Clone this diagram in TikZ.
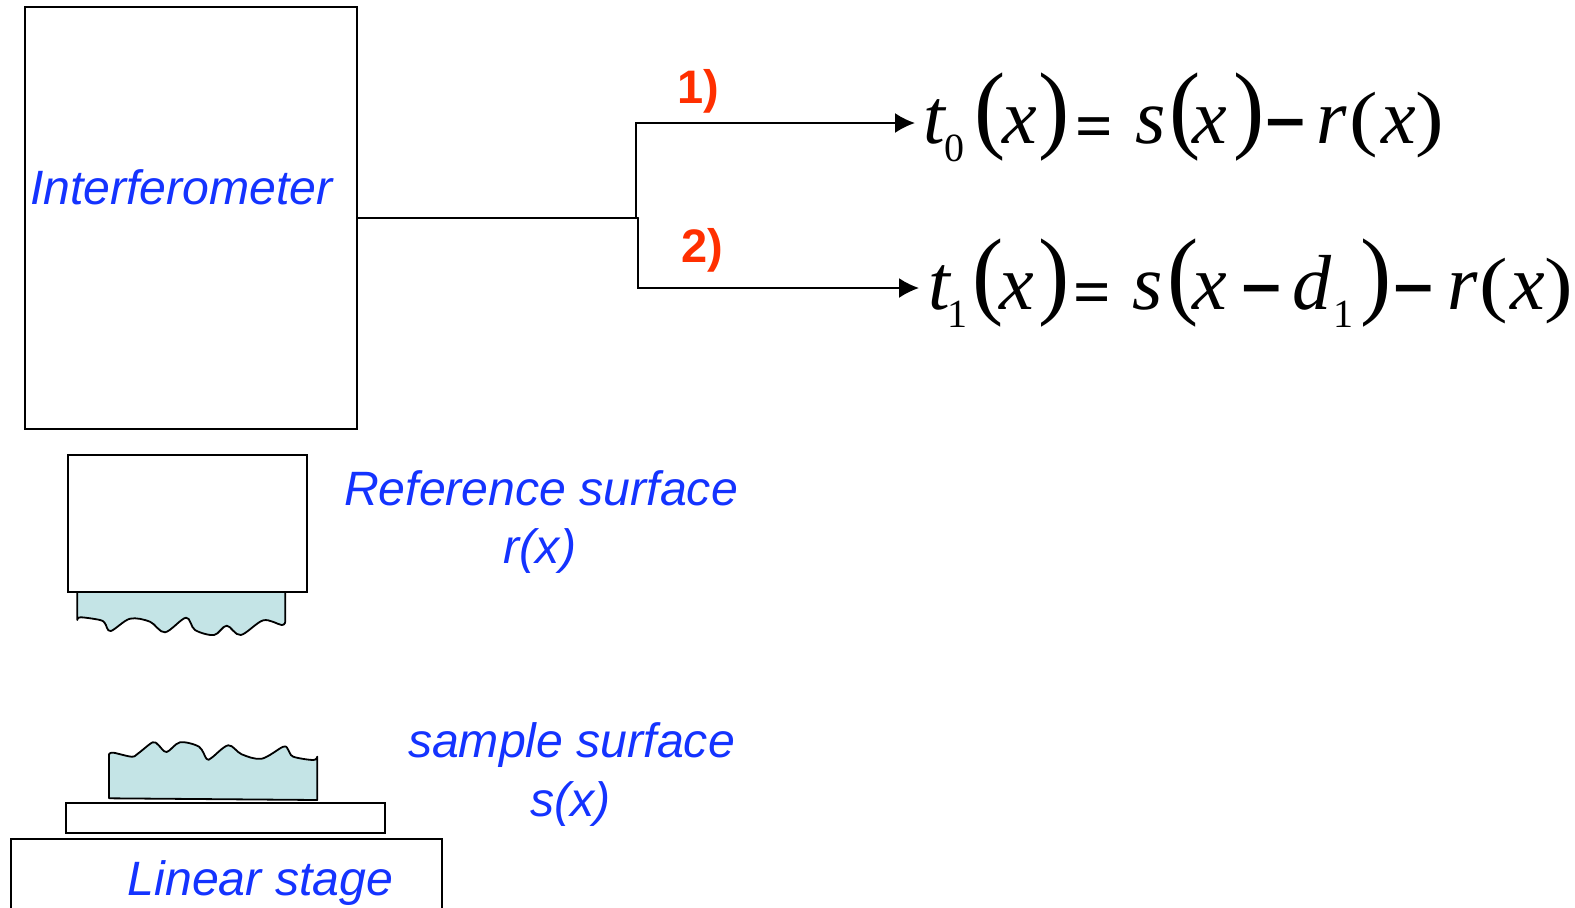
\documentclass[tikz,border=0pt]{standalone}
\usepackage{fontspec}
\setmainfont{Liberation Sans}
\newfontfamily\eqfont{Liberation Serif}
\usetikzlibrary{arrows.meta}
\definecolor{labelblue}{HTML}{1433FF}
\definecolor{labelred}{HTML}{FF2F00}
\definecolor{surf}{HTML}{C4E4E6}
\newcommand\placeat[2]{\rlap{\kern#1pt #2}}
\newcommand\bigparen[1]{\raisebox{3pt}{\scalebox{1.2}[1.25]{\fontsize{78}{78}\selectfont #1}}}
\newcommand\eqsub[1]{\raisebox{-18.5pt}{\fontsize{40}{40}\selectfont #1}}
\newcommand\eqit[1]{{\fontsize{78}{78}\selectfont\itshape #1}}
\newcommand\eqsm[1]{\raisebox{1pt}{\scalebox{1.1}[0.93]{\fontsize{78}{78}\selectfont #1}}}
\newcommand\eqeq{\raisebox{-5.5pt}{\fontsize{66}{66}\selectfont\bfseries =}}
\newcommand\eqminus{\raisebox{-10pt}{\scalebox{1.2}[1.5]{\fontsize{62}{62}\selectfont\bfseries −}}}
\begin{document}
\begin{tikzpicture}[x=1pt,y=-1pt,
  boxshape/.style={draw=black,line width=2pt,fill=white,inner sep=0pt,rectangle},
  bluelabel/.style={text=labelblue,font=\fontsize{48.2}{48.2}\selectfont\itshape,inner sep=0pt},
  redlabel/.style={text=labelred,font=\fontsize{47}{47}\selectfont\bfseries,inner sep=0pt,anchor=base west},
  equation/.style={inner sep=0pt,anchor=base west,font=\eqfont},
  wire/.style={line width=2pt,draw=black,line cap=round},
  arrowwire/.style={wire,-{Latex[length=20pt,width=20pt,sharp]}},
  surface/.style={draw=black,line width=1.8pt,fill=surf,line join=round}]
\useasboundingbox (0,0) rectangle (1575,908);
\clip (0,0) rectangle (1575,908);

% reference surface
\draw[surface] (77.3,591.5) -- plot[smooth,tension=0.55] coordinates {(77.3,620) (80.7,617.3) (100,620) (105,623.3) (110.7,631) (130,618.7) (150,621.7) (165,632.3) (186,617.7) (195,630) (214,635) (226.7,625.7) (240.7,635) (263.3,620.3) (281.7,625) (285.3,621.7)}
  -- (285.3,591.5) -- cycle;

\node[boxshape,minimum width=332.5pt,minimum height=422pt] (interf) at (190.75,218) {};
\node[boxshape,minimum width=239pt,minimum height=136.5pt] (refbox) at (187,523.25) {};
\node[boxshape,minimum width=319.5pt,minimum height=29.7pt] (plate) at (225.25,817.85) {};
\node[boxshape,minimum width=431.5pt,minimum height=140pt] (stage) at (226.25,908.7) {};

% sample surface
\draw[surface] (109,798.3) -- plot[smooth,tension=0.55] coordinates {(109,754.3) (113.3,752.7) (131.7,756.7) (138.3,753.3) (152.7,742.3) (158.3,745) (166.7,752) (180,742.3) (199,746.7) (206.7,759) (211.7,757.7) (228.3,745.3) (241.7,754.3) (261.7,758.7) (283.3,746.7) (288.3,750) (293.3,756.7) (313.3,760) (317.3,756.7)}
  -- (317.3,800) -- cycle;

% labels
\node[bluelabel,anchor=base] (linterf) at (181.5,204) {Interferometer};
\node[bluelabel,anchor=base] (lref) at (541,505) {Reference surface};
\node[bluelabel,anchor=base] (lr) at (540,563) {r(x)};
\node[bluelabel,anchor=base] (lsample) at (571.5,757) {sample surface};
\node[bluelabel,anchor=base] (ls) at (570.5,816) {s(x)};
\node[bluelabel,anchor=base] (lstage) at (260.5,895) {Linear stage};
\node[redlabel] (one) at (677,103) {1)};
\node[redlabel] (two) at (681,262) {2)};

% equations
\node[equation] (eqa) at (900,143) {\hbox to 675pt{%
  \placeat{23}{\eqit{t}}\placeat{44}{\eqsub{0}}%
  \placeat{74}{\bigparen{(}}\placeat{102}{\eqit{x}}\placeat{138}{\bigparen{)}}%
  \placeat{175}{\eqeq}%
  \placeat{235}{\eqit{s}}\placeat{269}{\bigparen{(}}\placeat{292}{\eqit{x}}\placeat{333}{\bigparen{)}}%
  \placeat{364}{\eqminus}%
  \placeat{416}{\eqit{r}}\placeat{449}{\eqsm{(}}\placeat{481}{\eqit{x}}\placeat{515}{\eqsm{)}}\hss}};
\node[equation] (eqb) at (900,309) {\hbox to 675pt{%
  \placeat{28}{\eqit{t}}\placeat{47}{\eqsub{1}}%
  \placeat{72}{\bigparen{(}}\placeat{99}{\eqit{x}}\placeat{138}{\bigparen{)}}%
  \placeat{173}{\eqeq}%
  \placeat{232}{\eqit{s}}\placeat{267}{\bigparen{(}}\placeat{292}{\eqit{x}}%
  \placeat{340}{\eqminus}%
  \placeat{392}{\eqit{d}}\placeat{433}{\eqsub{1}}\placeat{460}{\bigparen{)}}%
  \placeat{492}{\eqminus}%
  \placeat{547}{\eqit{r}}\placeat{579}{\eqsm{(}}\placeat{610}{\eqit{x}}\placeat{644}{\eqsm{)}}\hss}};

% connectors
\coordinate (junction) at (638,218);
\coordinate (upcorner) at (636,123);
\coordinate (upend) at (915,123);
\coordinate (downcorner) at (638,288);
\coordinate (downend) at (919,288);
\draw[wire] (interf.east) -- (junction);
\draw[arrowwire] (636,218) -- (upcorner) -- (upend);
\draw[arrowwire] (junction) -- (downcorner) -- (downend);
\end{tikzpicture}
\end{document}
